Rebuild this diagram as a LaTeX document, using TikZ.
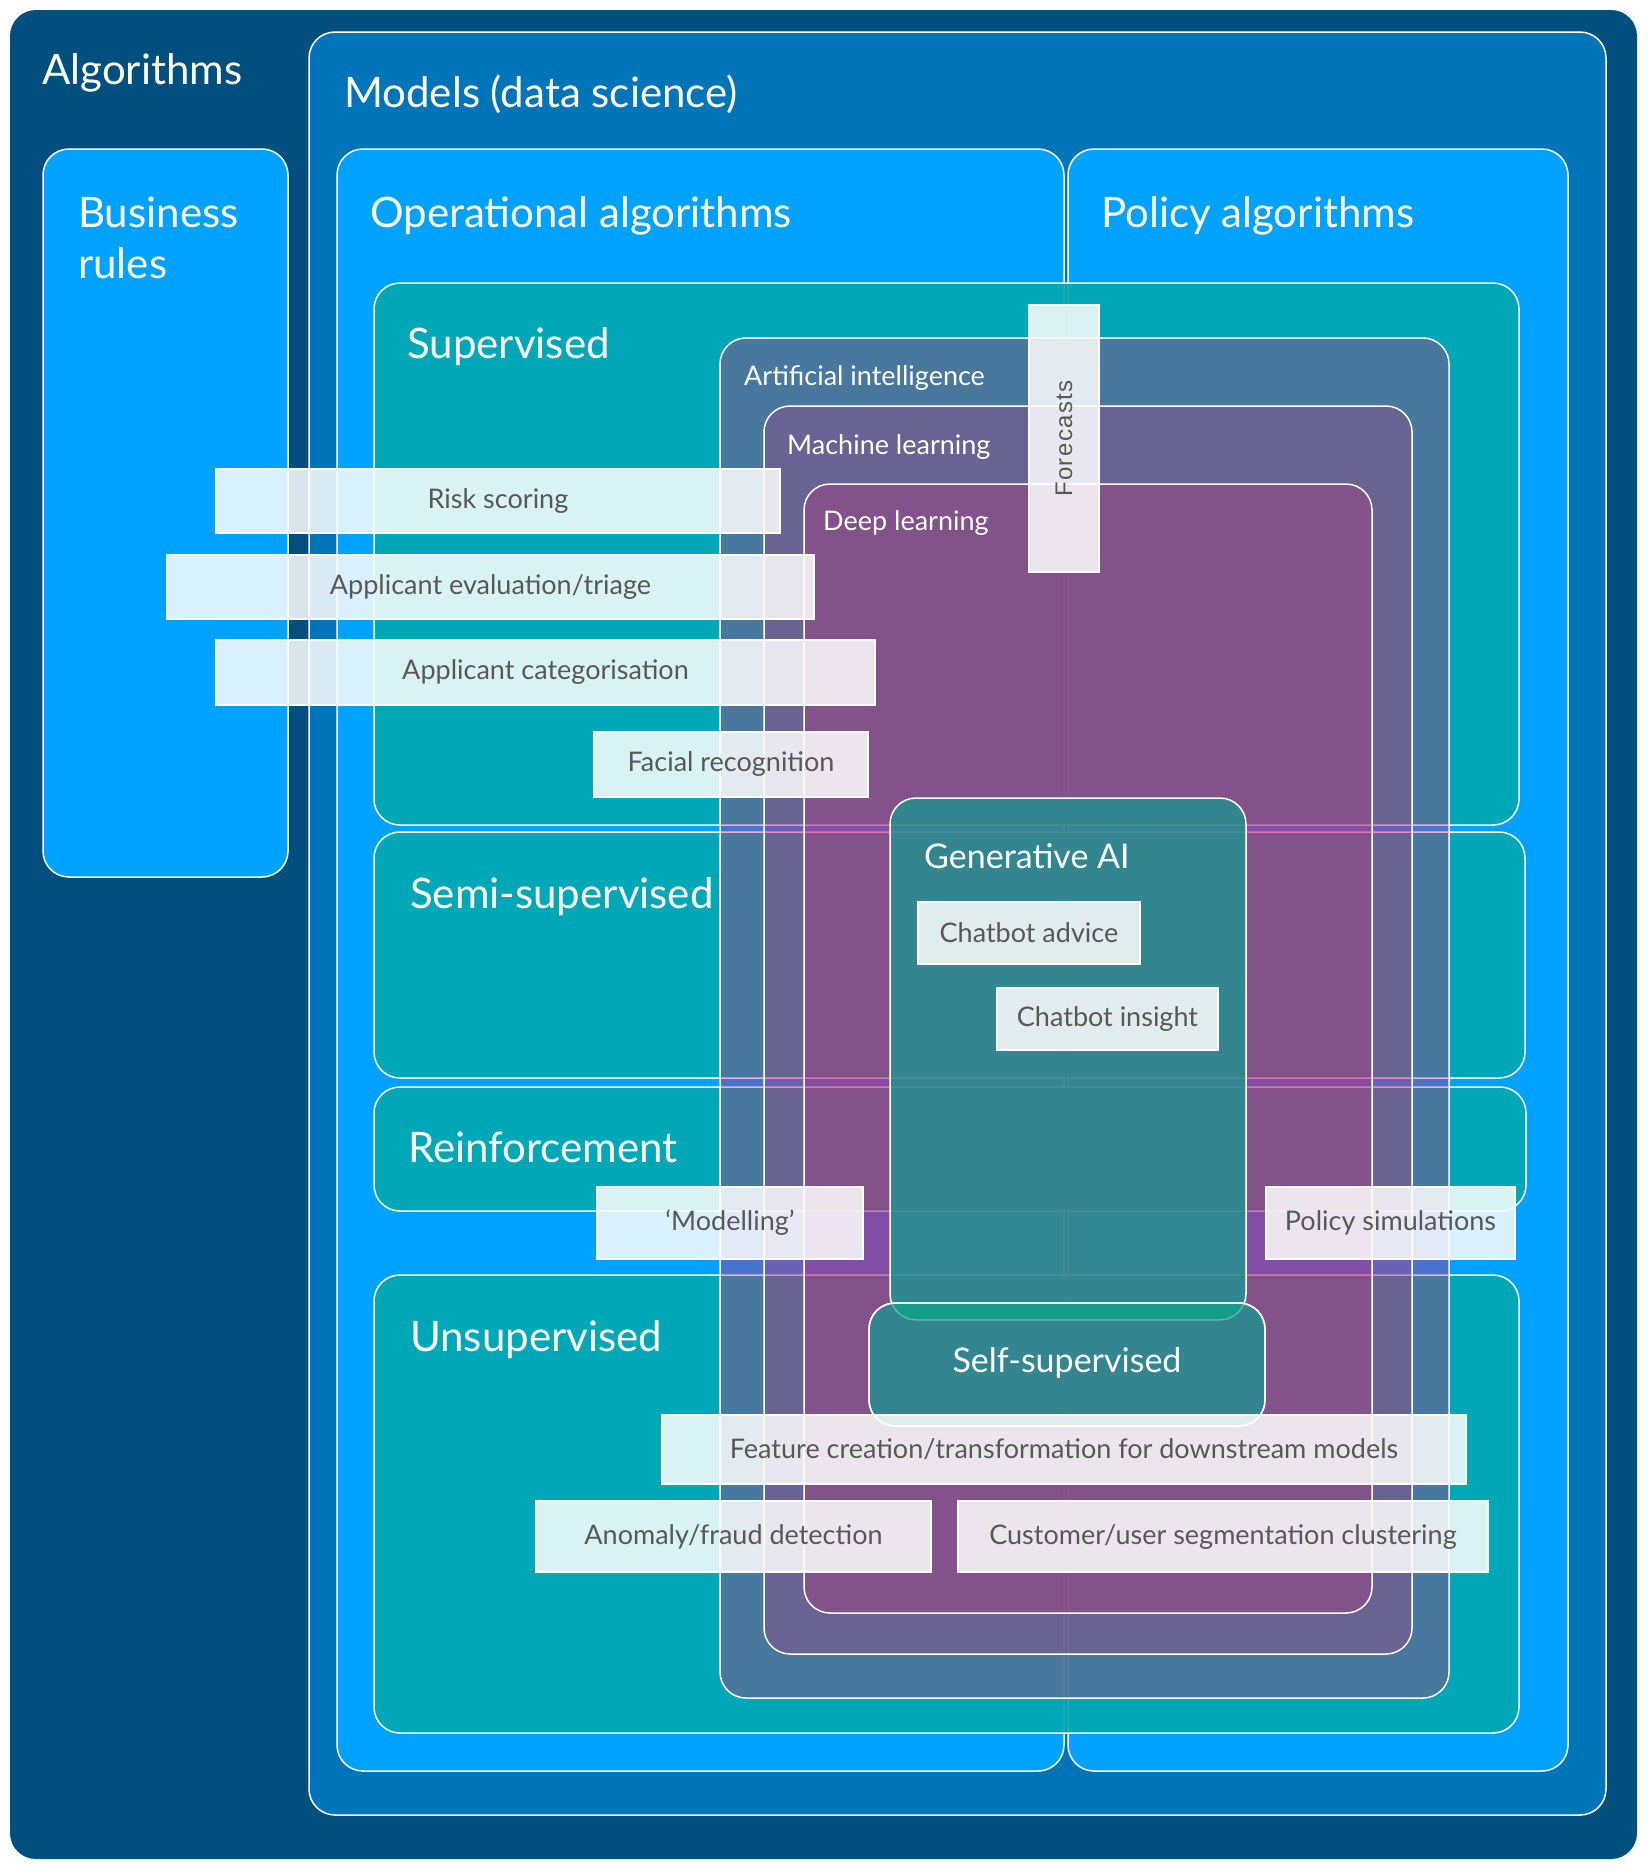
\documentclass[tikz,border=0pt]{standalone}
\usepackage{fontspec}
\setmainfont{Lato}
\newfontfamily\fcfont{Liberation Sans}
\begin{document}
\begin{tikzpicture}[x=1pt,y=-1pt]
\definecolor{navy}{RGB}{0,79,127}
\definecolor{modelsc}{RGB}{0,116,184}
\definecolor{brightc}{RGB}{0,162,255}
\definecolor{tealc}{RGB}{0,169,176}
\definecolor{aimag}{RGB}{211,31,115}
\definecolor{genc}{RGB}{32,148,144}
\definecolor{genov}{RGB}{21,158,140}
\definecolor{lbltext}{RGB}{88,88,88}
\tikzset{
 bigbox/.style={draw=white, line width=1.5pt, rounded corners=26pt},
 ttl/.style={anchor=base west, text=white, font=\fontsize{42}{48}\selectfont, inner sep=0pt},
 subttl/.style={anchor=base west, text=white, font=\fontsize{27}{32}\selectfont, inner sep=0pt},
 lbl/.style={draw=white, line width=1.2pt, fill=white, fill opacity=0.85, text opacity=1, text=lbltext, font=\fontsize{27}{32}\selectfont, inner sep=0pt, anchor=center},
}
% background
\fill[white] (0,0) rectangle (1648,1872);
\fill[navy, rounded corners=26pt] (10,10) rectangle (1637,1859);
% models
\path[bigbox, fill=modelsc] (309,32) rectangle (1606,1815);
\path[bigbox, fill=brightc] (43,149) rectangle (288,877);
\path[bigbox, fill=brightc] (337,149) rectangle (1064,1771);
\path[bigbox, fill=brightc] (1068,149) rectangle (1568,1771);
% learning types
\path[bigbox, fill=tealc, fill opacity=0.9] (374,283) rectangle (1519,825);
\path[bigbox, fill=tealc, fill opacity=0.9] (374,832) rectangle (1525,1078);
\path[bigbox, fill=tealc, fill opacity=0.9] (374,1087) rectangle (1526,1211);
\path[bigbox, fill=tealc, fill opacity=0.9] (374,1275) rectangle (1519,1733);
% AI / ML / DL
\path[bigbox, fill=aimag, fill opacity=0.35] (720,338) rectangle (1449,1698);
\path[bigbox, fill=aimag, fill opacity=0.234] (764,406) rectangle (1412,1654);
\path[bigbox, fill=aimag, fill opacity=0.248] (804,484) rectangle (1372,1613);
% titles
\node[ttl] (talg) at (42,84) {Algorithms};
\node[ttl] (tmod) at (344,107) {Models (data science)};
\node[ttl] (tbus) at (78,227) {Business};
\node[ttl] (tbus2) at (78,278) {rules};
\node[ttl] (top) at (370,227) {Operational algorithms};
\node[ttl] (tpol) at (1101,227) {Policy algorithms};
\node[ttl] (tsup) at (407,358) {Supervised};
\node[ttl] (tsemi) at (410,908) {Semi-supervised};
\node[ttl] (trein) at (408,1162) {Reinforcement};
\node[ttl] (tuns) at (410,1351) {Unsupervised};
\node[subttl] (tai) at (744,385) {Artificial intelligence};
\node[subttl] (tml) at (787,454) {Machine learning};
\node[subttl] (tdl) at (823,530) {Deep learning};
% supervised labels
\node[lbl, minimum width=564, minimum height=64] (risk) at (498,501) {Risk scoring};
\node[lbl, minimum width=647, minimum height=64] (eval) at (490.5,587) {Applicant evaluation/triage};
\node[lbl, minimum width=659, minimum height=65] (cat) at (545.5,672.5) {Applicant categorisation};
\node[lbl, minimum width=274, minimum height=65] (face) at (731,764.5) {Facial recognition};
% generative AI
\path[bigbox, fill=genc, fill opacity=0.8] (890,798) rectangle (1246,1320);
\node[anchor=base west, text=white, font=\fontsize{34}{40}\selectfont, inner sep=0pt] (tgen) at (924,868) {Generative AI};
\node[lbl, minimum width=222, minimum height=62] (cadv) at (1029,933) {Chatbot advice};
\node[lbl, minimum width=221, minimum height=62] (cins) at (1107.5,1019) {Chatbot insight};
% self-supervised
\path[bigbox, fill=genc, fill opacity=0.8] (869,1303) rectangle (1265,1426);
\begin{scope}
\clip[rounded corners=26pt] (890,798) rectangle (1246,1320);
\fill[genov, rounded corners=26pt] (869,1303) rectangle (1265,1426);
\draw[white, draw opacity=0.35, line width=1.5pt, rounded corners=26pt] (890,798) rectangle (1246,1320);
\end{scope}
\draw[white, line width=1.5pt, rounded corners=26pt] (869,1303) rectangle (1265,1426);
\node[text=white, font=\fontsize{34}{40}\selectfont, inner sep=0pt] (tself) at (1067,1363) {Self-supervised};
% other labels
\node[lbl, minimum width=266, minimum height=72] (modl) at (730,1223) {‘Modelling’};
\node[lbl, minimum width=249, minimum height=72] (psim) at (1390.5,1223) {Policy simulations};
\node[lbl, minimum width=804, minimum height=69] (feat) at (1064,1449.5) {Feature creation/transformation for downstream models};
\node[lbl, minimum width=395, minimum height=71] (anom) at (733.5,1536.5) {Anomaly/fraud detection};
\node[lbl, minimum width=530, minimum height=71] (cust) at (1223,1536.5) {Customer/user segmentation clustering};
\node[lbl, minimum width=70, minimum height=267] (fcst) at (1064,438.5) {};
\node[rotate=90, text=lbltext, font=\fcfont\fontsize{24}{28}\selectfont, inner sep=0pt] (tfc) at (fcst.center) {\addfontfeature{LetterSpace=6}Forecasts};
\end{tikzpicture}
\end{document}
